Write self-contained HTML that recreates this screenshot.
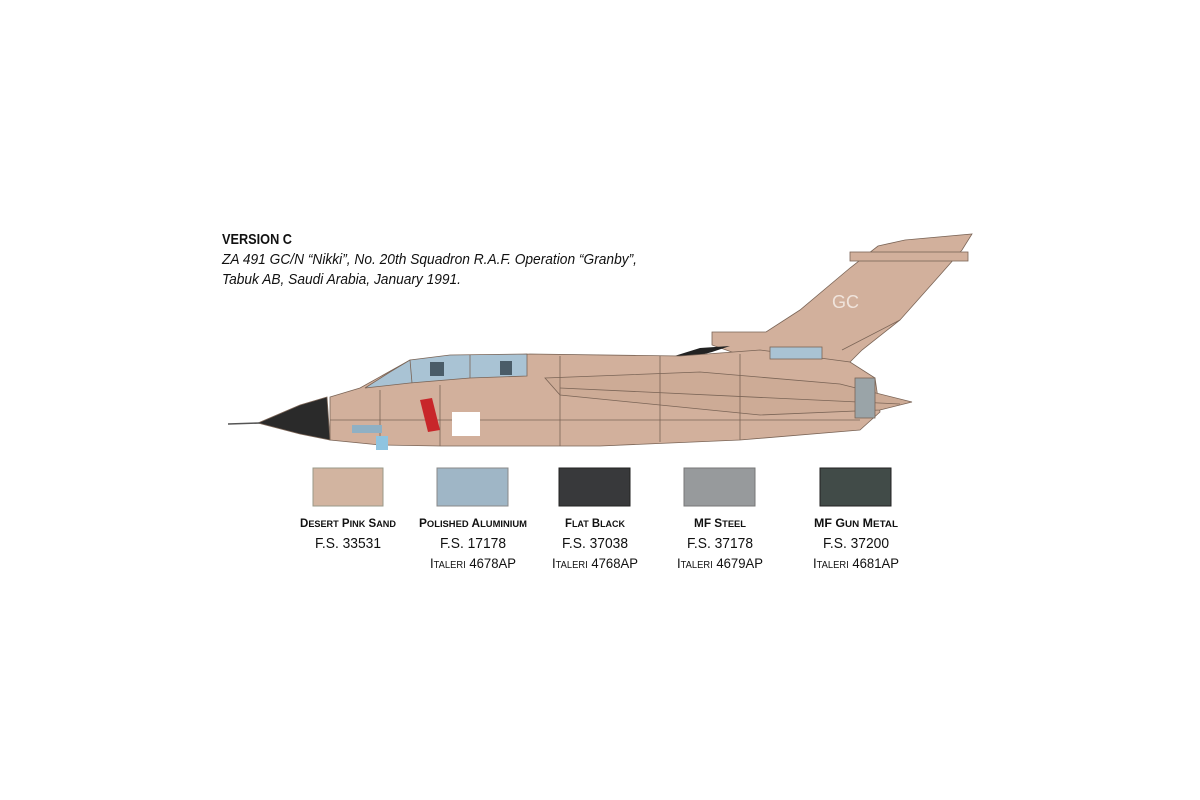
<!DOCTYPE html>
<html><head><meta charset="utf-8"><style>
html,body{margin:0;padding:0;background:#fff;width:1200px;height:800px;overflow:hidden}
svg{display:block}
</style></head><body>
<svg width="1200" height="800" viewBox="0 0 1200 800" xmlns="http://www.w3.org/2000/svg" font-family="Liberation Sans, sans-serif">
<rect width="1200" height="800" fill="#fff"/>
<!-- title -->
<text x="222" y="244" font-size="15" font-weight="bold" fill="#111" textLength="70" lengthAdjust="spacingAndGlyphs">VERSION C</text>
<text x="222" y="264" font-size="15" font-style="italic" fill="#111" textLength="415" lengthAdjust="spacingAndGlyphs">ZA 491 GC/N “Nikki”, No. 20th Squadron R.A.F. Operation “Granby”,</text>
<text x="222" y="284" font-size="15" font-style="italic" fill="#111" textLength="239" lengthAdjust="spacingAndGlyphs">Tabuk AB, Saudi Arabia, January 1991.</text>

<!-- aircraft -->
<g stroke="#7a6456" stroke-width="0.8">
<!-- fin -->
<polygon points="712,332 766,332 800,310 850,268 878,246 905,240 972,234 962,250 940,275 900,320 862,350 850,362 760,362 712,345" fill="#d2b09c"/>
<rect x="850" y="252" width="118" height="9" fill="#d2b09c"/>
<line x1="900" y1="320" x2="842" y2="350"/>
<!-- dark spine fairing -->
<polygon points="668,358 700,348 730,346 712,352 690,358" fill="#222" stroke="none"/>
<!-- fuselage -->
<polygon points="330,397 360,388 410,360 530,354 680,356 760,350 850,362 875,378 880,412 860,430 740,440 600,446 440,446 380,445 330,440" fill="#d2b09c"/>
<!-- wing -->
<polygon points="545,378 700,372 840,384 912,402 880,410 760,415 560,395" fill="#cdab96"/>
<line x1="560" y1="388" x2="900" y2="404"/>
<!-- radome -->
<polygon points="258,423 300,405 327,397 330,440 300,434" fill="#2a2a2a"/>
<line x1="228" y1="424" x2="260" y2="423" stroke="#555" stroke-width="1.5"/>
<!-- canopy -->
<polygon points="365,388 390,372 410,360 450,355 527,354 527,376 470,378 410,383" fill="#a9c3d4"/>
<line x1="410" y1="360" x2="412" y2="383"/>
<line x1="470" y1="355" x2="470" y2="378"/>
<rect x="430" y="362" width="14" height="14" fill="#4a5c68" stroke="none"/>
<rect x="500" y="361" width="12" height="14" fill="#4a5c68" stroke="none"/>
<!-- panels -->
<line x1="330" y1="420" x2="860" y2="420"/>
<line x1="560" y1="356" x2="560" y2="446"/>
<line x1="660" y1="356" x2="660" y2="442"/>
<line x1="740" y1="354" x2="740" y2="440"/>
<line x1="380" y1="390" x2="380" y2="445"/>
<line x1="440" y1="385" x2="440" y2="446"/>
<rect x="770" y="347" width="52" height="12" fill="#a9c3d4"/>
<rect x="855" y="378" width="20" height="40" fill="#9aa4a8"/>
</g>
<!-- decals -->
<rect x="452" y="412" width="28" height="24" fill="#fff"/>
<polygon points="420,400 432,398 440,430 428,432" fill="#c8262a"/>
<rect x="352" y="425" width="30" height="8" fill="#8fb0c4"/>
<rect x="376" y="436" width="12" height="14" fill="#8fc4e0"/>
<text x="832" y="308" font-size="18" fill="#f0e4dc">GC</text>

<!-- swatches -->
<rect x="313" y="468" width="70" height="38" fill="#d2b4a0" stroke="#998" stroke-width="1"/>
<rect x="437" y="468" width="71" height="38" fill="#9fb6c6" stroke="#888" stroke-width="1"/>
<rect x="559" y="468" width="71" height="38" fill="#38393b" stroke="#222" stroke-width="1"/>
<rect x="684" y="468" width="71" height="38" fill="#979a9c" stroke="#777" stroke-width="1"/>
<rect x="820" y="468" width="71" height="38" fill="#414b48" stroke="#222" stroke-width="1"/>

<g fill="#111" text-anchor="middle">
<text x="348" y="527" font-size="12" font-weight="bold" textLength="96" lengthAdjust="spacingAndGlyphs">D<tspan font-size="9.5">ESERT</tspan> P<tspan font-size="9.5">INK</tspan> S<tspan font-size="9.5">AND</tspan></text>
<text x="348" y="548" font-size="15" textLength="66" lengthAdjust="spacingAndGlyphs">F.S. 33531</text>

<text x="473" y="527" font-size="12" font-weight="bold" textLength="108" lengthAdjust="spacingAndGlyphs">P<tspan font-size="9.5">OLISHED</tspan> A<tspan font-size="9.5">LUMINIUM</tspan></text>
<text x="473" y="548" font-size="15" textLength="66" lengthAdjust="spacingAndGlyphs">F.S. 17178</text>
<text x="473" y="568" font-size="14" textLength="86" lengthAdjust="spacingAndGlyphs">I<tspan font-size="10">TALERI</tspan> 4678AP</text>

<text x="595" y="527" font-size="12" font-weight="bold" textLength="60" lengthAdjust="spacingAndGlyphs">F<tspan font-size="9.5">LAT</tspan> B<tspan font-size="9.5">LACK</tspan></text>
<text x="595" y="548" font-size="15" textLength="66" lengthAdjust="spacingAndGlyphs">F.S. 37038</text>
<text x="595" y="568" font-size="14" textLength="86" lengthAdjust="spacingAndGlyphs">I<tspan font-size="10">TALERI</tspan> 4768AP</text>

<text x="720" y="527" font-size="12" font-weight="bold" textLength="52" lengthAdjust="spacingAndGlyphs">MF S<tspan font-size="9.5">TEEL</tspan></text>
<text x="720" y="548" font-size="15" textLength="66" lengthAdjust="spacingAndGlyphs">F.S. 37178</text>
<text x="720" y="568" font-size="14" textLength="86" lengthAdjust="spacingAndGlyphs">I<tspan font-size="10">TALERI</tspan> 4679AP</text>

<text x="856" y="527" font-size="12" font-weight="bold" textLength="84" lengthAdjust="spacingAndGlyphs">MF G<tspan font-size="9.5">UN</tspan> M<tspan font-size="9.5">ETAL</tspan></text>
<text x="856" y="548" font-size="15" textLength="66" lengthAdjust="spacingAndGlyphs">F.S. 37200</text>
<text x="856" y="568" font-size="14" textLength="86" lengthAdjust="spacingAndGlyphs">I<tspan font-size="10">TALERI</tspan> 4681AP</text>
</g>
</svg>
</body></html>
